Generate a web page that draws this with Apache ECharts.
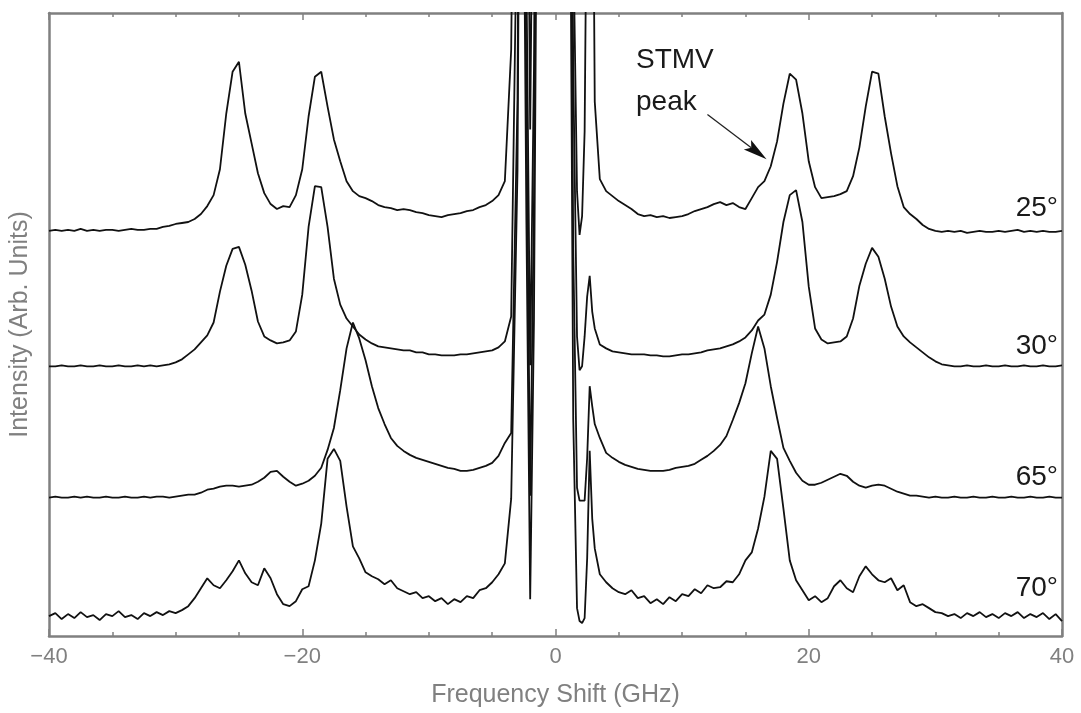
<!DOCTYPE html>
<html>
<head>
<meta charset="utf-8">
<title>Brillouin spectra</title>
<script src="https://cdn.jsdelivr.net/npm/echarts@6/dist/echarts.min.js"></script>
<style>
html, body { margin: 0; padding: 0; background: #fff; }
#chart { width: 1081px; height: 713px; }
</style>
</head>
<body>
<div id="chart"></div>
<script>
// frequency grid (GHz): 0.5 GHz in the wings, finer around the central lines
var freqLeft = [];
for (var f = -40; f <= -4; f += 0.5) freqLeft.push(f);
var freqMid = [-3.5, -3.0, -2.8, -2.6, -2.3, -2.0, -1.7, -1.4, -1.1, 0,
               1.1, 1.4, 1.7, 1.9, 2.1, 2.3, 2.5, 2.7, 2.9, 3.1, 3.5];
var freqRight = [];
for (var g = 4; g <= 40; g += 0.5) freqRight.push(g);
var freq = freqLeft.concat(freqMid, freqRight);

// intensities above each trace's own baseline (arb. units), null = blanked Rayleigh region
var int25 = [
  0, 1, 0, 1, 0, 2, 0, 1, 0, 1,   1, 0, 1, 2, 1, 1, 2, 2, 4, 5,
  7, 8, 9, 12, 17, 25, 36, 62, 118, 160,   170, 118, 88, 58, 38, 27, 22, 25, 24, 36,
  62, 115, 155, 160, 125, 92, 70, 50, 40, 35,   33, 30, 26, 24, 23, 21, 22, 21, 19, 18,
  16, 15, 14, 16, 17, 18, 20, 21, 24, 26,   30, 36, 50,
  182, 800, 900, 900, 600, 102, 500, 900, 900, null, 900, 300, 40, -4, 15, 100, 400, 900, 500, 130, 52,
  40, 35, 30, 26, 22, 17, 15, 16, 14, 15,   13, 14, 15, 17, 20, 22, 24, 27, 29, 26,
  28, 24, 22, 33, 44, 50, 65, 90, 128, 158,   152, 118, 70, 44, 33, 34, 35, 37, 40, 55,
  84, 125, 160, 158, 115, 78, 45, 24, 17, 12,   6, 2, 0, -1, 0, -1, 0, -2, -1, 0,
  -1, -1, 0, -1, 0, 1, -1, 0, -1, 0,   -1, -1, 0
];
var int30 = [
  0, 0, 1, 0, 0, 1, 0, 0, 1, 0,   0, 1, 0, 0, 1, 0, 1, 0, 1, 2,
  4, 7, 12, 17, 24, 31, 44, 75, 101, 118,   120, 102, 76, 45, 30, 26, 23, 24, 26, 35,
  72, 140, 181, 180, 140, 88, 62, 48, 40, 32,   27, 23, 20, 19, 18, 17, 16, 16, 14, 14,
  12, 12, 11, 11, 11, 12, 12, 13, 14, 15,   16, 19, 25,
  50, 500, 900, 900, 400, 1, 300, 900, 900, null, 900, 300, 30, -4, 0, 30, 70, 91, 55, 38, 22,
  18, 15, 14, 13, 12, 12, 12, 11, 11, 10,   10, 11, 12, 12, 13, 14, 16, 17, 18, 20,
  22, 25, 29, 36, 46, 52, 72, 105, 145, 172,   177, 145, 80, 38, 27, 23, 24, 25, 30, 48,
  81, 103, 119, 110, 88, 60, 40, 30, 24, 19,   14, 9, 5, 2, 1, 0, 0, 1, 0, 0,
  1, 0, 0, 1, 0, 0, 1, 0, 0, 1,   0, 0, 1
];
var int65 = [
  0, 1, 0, 0, 1, 0, 1, 0, 0, 1,   0, 0, 1, 0, 0, 1, 0, 1, 1, 0,
  1, 2, 3, 3, 5, 8, 9, 11, 12, 12,   11, 12, 13, 16, 20, 26, 27, 21, 16, 12,
  14, 17, 22, 30, 48, 70, 108, 150, 176, 160,   138, 112, 90, 74, 60, 52, 47, 43, 40, 38,
  36, 34, 32, 30, 29, 27, 27, 28, 30, 32,   35, 42, 55,
  65, 400, 900, 900, 400, 2, 300, 900, 900, null, 900, 250, 10, -3, -3, -3, 40, 112, 92, 74, 60,
  45, 40, 36, 33, 31, 29, 28, 27, 27, 27,   28, 30, 31, 32, 34, 38, 42, 47, 53, 62,
  78, 95, 115, 145, 172, 150, 112, 80, 50, 37,   25, 17, 13, 13, 15, 18, 21, 24, 22, 16,
  12, 10, 12, 13, 12, 9, 6, 4, 2, 2,   1, 0, 1, 0, 0, 1, 0, 0, 1, 0,
  0, 1, 0, 0, 1, 0, 0, 1, 0, 0,   1, 0, 0
];
var int70 = [
  2, 5, -1, 4, 0, 6, 1, 3, -2, 4,   2, 7, 1, 3, -1, 5, 2, 6, 3, 7,
  5, 8, 12, 20, 30, 40, 33, 30, 38, 47,   58, 45, 36, 33, 50, 40, 24, 14, 12, 17,
  29, 32, 58, 95, 160, 170, 158, 112, 72, 60,   46, 42, 39, 34, 38, 30, 27, 24, 26, 20,
  22, 17, 20, 14, 19, 16, 22, 20, 28, 30,   36, 44, 55,
  120, 450, 900, 900, 400, 19, 300, 900, 900, null, 900, 200, 10, -3, -5, 0, 60, 168, 100, 70, 44,
  36, 30, 26, 24, 28, 20, 22, 15, 19, 14,   21, 17, 24, 22, 29, 25, 33, 30, 31, 37,
  36, 44, 58, 66, 90, 122, 168, 160, 110, 58,   38, 28, 18, 22, 16, 20, 32, 38, 30, 26,
  42, 52, 44, 38, 36, 40, 28, 33, 16, 12,   14, 10, 6, 5, 2, 4, 0, 5, 2, 6,
  1, 4, 0, 5, 2, 6, 0, 4, 1, 5,   -1, 4, -3
];

var traces = [int25, int30, int65, int70];
var angles = ['25°', '30°', '65°', '70°'];
var offsets = [407, 271, 139, 18];      // vertical stacking of the traces
var labelY = [209, 347, 478, 589];      // pixel rows of the angle labels

var gray = '#808080';
var font = 'Liberation Sans, Arial, Helvetica, sans-serif';

function toPairs(vals, off) {
  return freq.map(function (f, i) {
    return vals[i] == null ? [f, '-'] : [f, vals[i] + off];
  });
}

var xAxisBase = {
  type: 'value', min: -40, max: 40, interval: 20, gridIndex: 0,
  axisLine: { show: true, onZero: false, lineStyle: { color: gray, width: 2.5 } },
  axisTick: { show: true, inside: true, length: 7, lineStyle: { color: gray, width: 1.5 } },
  minorTick: { show: true, splitNumber: 4, length: 4, lineStyle: { color: gray, width: 1.5 } },
  splitLine: { show: false }
};
var yAxisBase = {
  type: 'value', min: 0, max: 626,
  axisLine: { show: true, onZero: false, lineStyle: { color: gray, width: 2.5 } },
  axisTick: { show: false }, axisLabel: { show: false }, splitLine: { show: false }
};

var chart = echarts.init(document.getElementById('chart'), null, { renderer: 'canvas' });

chart.setOption({
  animation: false,
  backgroundColor: '#fff',
  grid: { left: 49, right: 19, top: 13, bottom: 74 },
  xAxis: [
    Object.assign({}, xAxisBase, {
      position: 'bottom',
      axisLabel: {
        color: gray, fontSize: 22, fontFamily: font, margin: 10,
        formatter: function (v) { return v < 0 ? '\u2212' + Math.abs(v) : String(v); }
      },
      name: 'Frequency Shift (GHz)', nameLocation: 'middle', nameGap: 47,
      nameTextStyle: { color: gray, fontSize: 25, fontFamily: font }
    }),
    Object.assign({}, xAxisBase, { position: 'top', axisLabel: { show: false } })
  ],
  yAxis: [
    Object.assign({}, yAxisBase, {
      position: 'left',
      name: 'Intensity (Arb. Units)', nameLocation: 'middle', nameGap: 16,
      nameTextStyle: { color: gray, fontSize: 25, fontFamily: font }
    }),
    Object.assign({}, yAxisBase, { position: 'right' })
  ],
  series: traces.map(function (vals, k) {
    return {
      name: angles[k], type: 'line', xAxisIndex: 0, yAxisIndex: 0,
      data: toPairs(vals, offsets[k]),
      showSymbol: false, connectNulls: false, clip: true, silent: true,
      lineStyle: { color: '#111', width: 1.8 }
    };
  }),
  graphic: angles.map(function (a, k) {
    return {
      id: 'angle' + k, type: 'text', right: 1081 - 1058, top: labelY[k] - 15,
      style: { text: a, fill: '#1a1a1a', fontSize: 28, fontFamily: font }
    };
  }).concat([
    { id: 'stmv', type: 'text', left: 636, top: 46, style: { text: 'STMV', fill: '#1a1a1a', fontSize: 28, fontFamily: font } },
    { id: 'peak', type: 'text', left: 636, top: 88, style: { text: 'peak', fill: '#1a1a1a', fontSize: 28, fontFamily: font } }
  ])
});

// arrow pointing at the STMV peak shoulder, placed in data coordinates
var arrowFrom = chart.convertToPixel({ gridIndex: 0 }, [12.0, 524]);
var arrowTo = chart.convertToPixel({ gridIndex: 0 }, [16.67, 479]);
var dx = arrowTo[0] - arrowFrom[0], dy = arrowTo[1] - arrowFrom[1];
var len = Math.sqrt(dx * dx + dy * dy), ux = dx / len, uy = dy / len;
var headLen = 24, headHalf = 6;
var baseX = arrowTo[0] - ux * headLen, baseY = arrowTo[1] - uy * headLen;
var notchX = arrowTo[0] - ux * headLen * 0.8, notchY = arrowTo[1] - uy * headLen * 0.8;
chart.setOption({
  graphic: [
    { id: 'arrowLine', type: 'line', shape: { x1: arrowFrom[0], y1: arrowFrom[1], x2: notchX, y2: notchY },
      style: { stroke: '#222', lineWidth: 1.3 } },
    { id: 'arrowHead', type: 'polygon', shape: { points: [
        [arrowTo[0], arrowTo[1]],
        [baseX - uy * headHalf, baseY + ux * headHalf],
        [notchX, notchY],
        [baseX + uy * headHalf, baseY - ux * headHalf]
      ] }, style: { fill: '#111' } }
  ]
});
</script>
</body>
</html>
